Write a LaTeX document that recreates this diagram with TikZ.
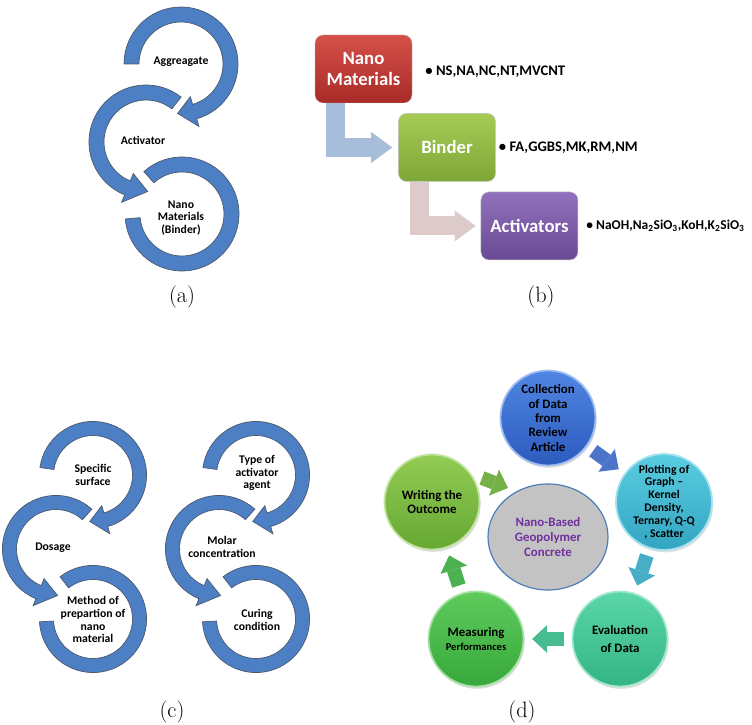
\documentclass[tikz,border=0pt]{standalone}
\usepackage{fontspec}
\setsansfont{Carlito}
\usepackage{tikz}
\usetikzlibrary{positioning}
\usetikzlibrary{calc}
\usetikzlibrary{arrows.meta}
\usetikzlibrary{shapes.geometric}
\usetikzlibrary{shadows}

\definecolor{ringblue}{HTML}{4D7FC4}
\definecolor{ringedge}{HTML}{4C5A6E}
\definecolor{redtop}{HTML}{D6504A}
\definecolor{redbot}{HTML}{A82B27}
\definecolor{greentop}{HTML}{A5CB55}
\definecolor{greenbot}{HTML}{7FA737}
\definecolor{purptop}{HTML}{9170BD}
\definecolor{purpbot}{HTML}{6A4A94}
\definecolor{bentblue}{HTML}{A7BDDA}
\definecolor{bentpink}{HTML}{DDCBCB}
\definecolor{colltop}{HTML}{4F86E3}
\definecolor{collbot}{HTML}{2D5BBE}
\definecolor{plottop}{HTML}{5ACCE0}
\definecolor{plotbot}{HTML}{33A5C2}
\definecolor{evaltop}{HTML}{5AD6A8}
\definecolor{evalbot}{HTML}{34B585}
\definecolor{meastop}{HTML}{5ECB5C}
\definecolor{measbot}{HTML}{38A83C}
\definecolor{writetop}{HTML}{92CC55}
\definecolor{writebot}{HTML}{66A832}
\definecolor{hubgrey}{HTML}{C3C3C3}
\definecolor{hubedge}{HTML}{4A7DB4}
\definecolor{hubtext}{HTML}{7030A0}

% ring with a head: x, y, start, end, tip angle, scale
\newcommand{\headring}[6]{%
  \begin{scope}[shift={(#1,#2)}, scale=#6]
    \filldraw[ring-a] (#3:57) arc[start angle=#3, end angle=#4, radius=57]
      -- (#4:65) -- (#5:49.5) -- (#4:34) -- (#4:42)
      arc[start angle=#4, end angle=#3, radius=42] -- cycle;
  \end{scope}}
% ring without a head: x, y, start, end, scale
\newcommand{\flatring}[5]{%
  \begin{scope}[shift={(#1,#2)}, scale=#5]
    \filldraw[ring-a] (#3:57) arc[start angle=#3, end angle=#4, radius=57]
      -- (#4:42) arc[start angle=#4, end angle=#3, radius=42] -- cycle;
  \end{scope}}

\begin{document}
\begin{tikzpicture}
[
x=0.03cm, y=0.03cm,
ring-a/.style={fill=ringblue, draw=ringedge, line width=0.6pt},
text-a/.style={font=\sffamily\bfseries\fontsize{10}{11}\selectfont, align=center, inner sep=0pt},
box-a/.style={rectangle, rounded corners=7pt, minimum width=2.91cm, minimum height=2.04cm, align=center, text=white, draw=white!75!black, line width=0.4pt, font=\sffamily\bfseries\fontsize{16}{18}\selectfont},
list-a/.style={font=\sffamily\bfseries\fontsize{12.5}{14}\selectfont, inner sep=0pt},
bent-a/.style={line width=0.57cm, line join=miter, -{Triangle[width=0.93cm, length=0.63cm, line width=0pt]}},
circ-a/.style={circle, minimum size=2.85cm, inner sep=0pt, align=center, line width=1.5pt, drop shadow={opacity=0.25, shadow xshift=1pt, shadow yshift=-2pt}},
hub-a/.style={ellipse, minimum width=3.6cm, minimum height=3.18cm, inner sep=0pt, align=center, fill=hubgrey, draw=hubedge, line width=1pt, text=hubtext, font=\sffamily\bfseries\fontsize{11}{13}\selectfont},
blk-a/.style={line width=0.42cm, -{Triangle[width=0.84cm, length=0.45cm, line width=0pt]}},
label-a/.style={font=\fontsize{19}{22}\selectfont},
]
\useasboundingbox (0,0) rectangle (752,725);

% (a)
\flatring{182}{511}{132}{-175}{1}
\headring{146}{583}{52}{248}{272}{1}
\headring{181}{661}{180}{-74}{-94}{1}
\node (agg)  [text-a] at (181,663) {Aggreagate};
\node (act)  [text-a] at (143,585) {Activator};
\node (nmb)  [text-a] at (181,507) {Nano\\Materials\\(Binder)};
\node (la)   [label-a] at (182,428) {(a)};

% (b)
\node (nm)   [box-a, top color=redtop, bottom color=redbot] at (363.5,656) {Nano\\Materials};
\node (bd)   [box-a, top color=greentop, bottom color=greenbot, below right = 0.30cm and -0.42cm of nm] {Binder};
\node (ac)   [box-a, top color=purptop, bottom color=purpbot, below right = 0.30cm and -0.45cm of bd] {Activators};
\node (nml)  [list-a, right = 0.39cm of nm, yshift=-0.09cm] {\textbullet\ NS,NA,NC,NT,MVCNT};
\node (bdl)  [list-a, right = 0.09cm of bd]                 {\textbullet\ FA,GGBS,MK,RM,NM};
\node (acl)  [list-a, right = 0.24cm of ac, font=\sffamily\bfseries\fontsize{11.5}{13}\selectfont] {\textbullet\ NaOH,Na\textsubscript{2}SiO\textsubscript{3},KoH,K\textsubscript{2}SiO\textsubscript{3}};
\draw [bent-a, draw=bentblue] ([xshift=0.63cm]nm.south west) |- ([xshift=-0.18cm]bd.west);
\draw [bent-a, draw=bentpink] ([xshift=0.64cm]bd.south west) |- ([xshift=-0.15cm]ac.west);
\node (lb)   [label-a] at (541,428) {(b)};

% (c)
\flatring{93}{106}{128}{-177}{0.94}
\headring{56}{176}{48}{248}{272}{0.94}
\headring{93}{250}{172}{-74}{-94}{0.94}
\flatring{256}{106}{128}{-177}{0.94}
\headring{219}{176}{48}{248}{272}{0.94}
\headring{256}{250}{172}{-74}{-94}{0.94}
\node (spec) [text-a] at (93,250)    {Specific\\surface};
\node (dos)  [text-a] at (53,177)    {Dosage};
\node (meth) [text-a] at (93,105.5)  {Method of\\prepartion of\\nano\\material};
\node (type) [text-a] at (257,252)   {Type of\\activator\\agent};
\node (mol)  [text-a] at (222,178)   {Molar\\concentration};
\node (cure) [text-a] at (257,105)   {Curing\\condition};
\node (lc)   [label-a] at (172,13) {(c)};

% (d)
\node (hub)   [hub-a] at (548,188) {Nano-Based\\Geopolymer\\Concrete};
\node (coll)  [circ-a, top color=colltop, bottom color=collbot, draw=white!45!colltop, font=\sffamily\bfseries\fontsize{11}{12.2}\selectfont] at (548,307) {Collection\\of Data\\from\\Review\\Article};
\node (plot)  [circ-a, top color=plottop, bottom color=plotbot, draw=white!45!plottop, font=\sffamily\bfseries\fontsize{10}{11}\selectfont] at (664,223) {Plotting of\\Graph –\\Kernel\\Density,\\Ternary, Q-Q\\, Scatter};
\node (eval)  [circ-a, top color=evaltop, bottom color=evalbot, draw=white!45!evaltop, font=\sffamily\bfseries\fontsize{11}{16}\selectfont] at (620,86) {Evaluation\\of Data};
\node (meas)  [circ-a, top color=meastop, bottom color=measbot, draw=white!45!meastop, font=\sffamily\bfseries\fontsize{11}{12}\selectfont] at (476,86) {Measuring\\{\fontsize{9}{11}\selectfont Performances}};
\node (write) [circ-a, top color=writetop, bottom color=writebot, draw=white!45!writetop, font=\sffamily\bfseries\fontsize{11}{12}\selectfont] at (432,223) {Writing the\\Outcome};
\draw [blk-a, draw=collbot!85!white]  ($(coll)!0.39!(plot)$) -- ($(coll)!0.61!(plot)$);
\draw [blk-a, draw=plotbot!90!white]  ($(plot)!0.39!(eval)$) -- ($(plot)!0.61!(eval)$);
\draw [blk-a, draw=evalbot!90!white]  ($(eval)!0.39!(meas)$) -- ($(eval)!0.61!(meas)$);
\draw [blk-a, draw=measbot!90!white]  ($(meas)!0.39!(write)$) -- ($(meas)!0.61!(write)$);
\coordinate (wtail) at (482,247);
\coordinate (whead) at (508,237);
\draw [blk-a, draw=writebot!90!white] (wtail) -- (whead);
\node (ld)   [label-a] at (522,13) {(d)};
\end{tikzpicture}
\end{document}
